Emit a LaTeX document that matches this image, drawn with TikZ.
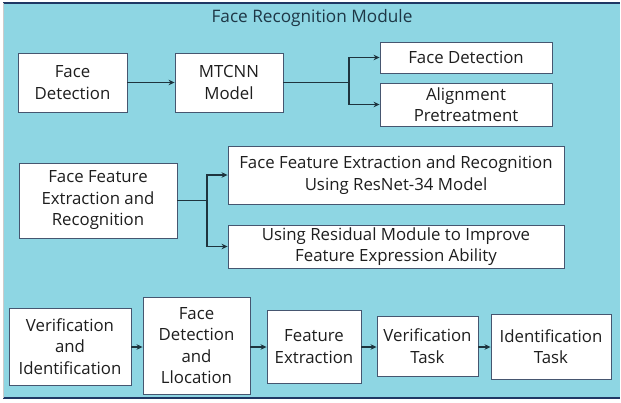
\documentclass[tikz,border=0pt]{standalone}
\usepackage{fontspec}
\setmainfont{Open Sans}
\usetikzlibrary{arrows.meta}
\definecolor{bgblue}{RGB}{142,214,227}
\definecolor{navy}{RGB}{31,56,100}
\definecolor{boxline}{RGB}{70,86,112}
\definecolor{txt}{RGB}{30,30,30}
\definecolor{ttl}{RGB}{30,55,70}
\definecolor{arrc}{RGB}{30,52,62}
\begin{document}
\begin{tikzpicture}[x=1pt,y=-1pt,
  bx/.style={draw=boxline, line width=0.9pt, fill=white, rectangle, inner sep=0pt,
    align=center, text=txt, font=\fontsize{16.8}{21.5}\selectfont},
  arr/.style={draw=arrc, line width=1.1pt, -{Stealth[length=6pt,width=5.5pt]}},
  ln/.style={draw=arrc, line width=1.1pt}]
\useasboundingbox (0,0) rectangle (621,402);
\fill[bgblue] (3,2) rectangle (620,399);
\draw[navy, line width=1.6pt] (3,2.8) -- (620,2.8);
\draw[navy, line width=1.6pt] (3,398.2) -- (620,398.2);
\draw[gray!40, line width=0.6pt] (3.3,3) -- (3.3,398);
\node[text=ttl, font=\fontsize{17.2}{20}\selectfont] (title) at (312,18) {Face Recognition Module};
% row 1
\node[bx, minimum width=109pt, minimum height=59pt] (b1) at (72.5,82.5) {Face\\Detection};
\node[bx, minimum width=108pt, minimum height=59pt] (b2) at (229,82.5) {MTCNN\\Model};
\node[bx, minimum width=172pt, minimum height=31pt] (b3) at (466,57.5) {Face Detection};
\node[bx, minimum width=172pt, minimum height=43pt] (b4) at (466,104.5) {Alignment\\Pretreatment};
\coordinate (j1) at (349,82.5);
\draw[arr] (b1.east) -- (b2.west);
\draw[ln] (b2.east) -- (j1);
\draw[arr] (j1) |- (b3.west);
\draw[arr] (j1) |- (b4.west);
% row 2
\node[bx, minimum width=158pt, minimum height=75pt] (b5) at (98,200.5) {Face Feature\\Extraction and\\Recognition};
\node[bx, minimum width=336pt, minimum height=58pt] (b6) at (396,175) {Face Feature Extraction and Recognition\\Using ResNet-34 Model};
\node[bx, minimum width=336pt, minimum height=43pt] (b7) at (396,246.5) {Using Residual Module to Improve\\Feature Expression Ability};
\coordinate (j2) at (207,200.5);
\draw[ln] (b5.east) -- (j2);
\draw[arr] (j2) |- (b6.west);
\draw[arr] (j2) |- (b7.west);
% row 3
\node[bx, minimum width=122pt, minimum height=77pt] (b8) at (70,346.5) {Verification\\and\\Identification};
\node[bx, minimum width=107pt, minimum height=97pt] (b9) at (196.5,345.5) {Face\\Detection\\and\\Llocation};
\node[bx, minimum width=94pt, minimum height=73pt] (b10) at (314,346.5) {Feature\\Extraction};
\node[bx, minimum width=101pt, minimum height=60pt] (b11) at (427.5,346) {Verification\\Task};
\node[bx, minimum width=120pt, minimum height=65pt] (b12) at (551,346.5) {Identification\\Task};
\draw[arr] (b8.east |- 0,347) -- (b9.west |- 0,347);
\draw[arr] (b9.east |- 0,347) -- (b10.west |- 0,347);
\draw[arr] (b10.east |- 0,347) -- (b11.west |- 0,347);
\draw[arr] (b11.east |- 0,347) -- (b12.west |- 0,347);
\end{tikzpicture}
\end{document}
